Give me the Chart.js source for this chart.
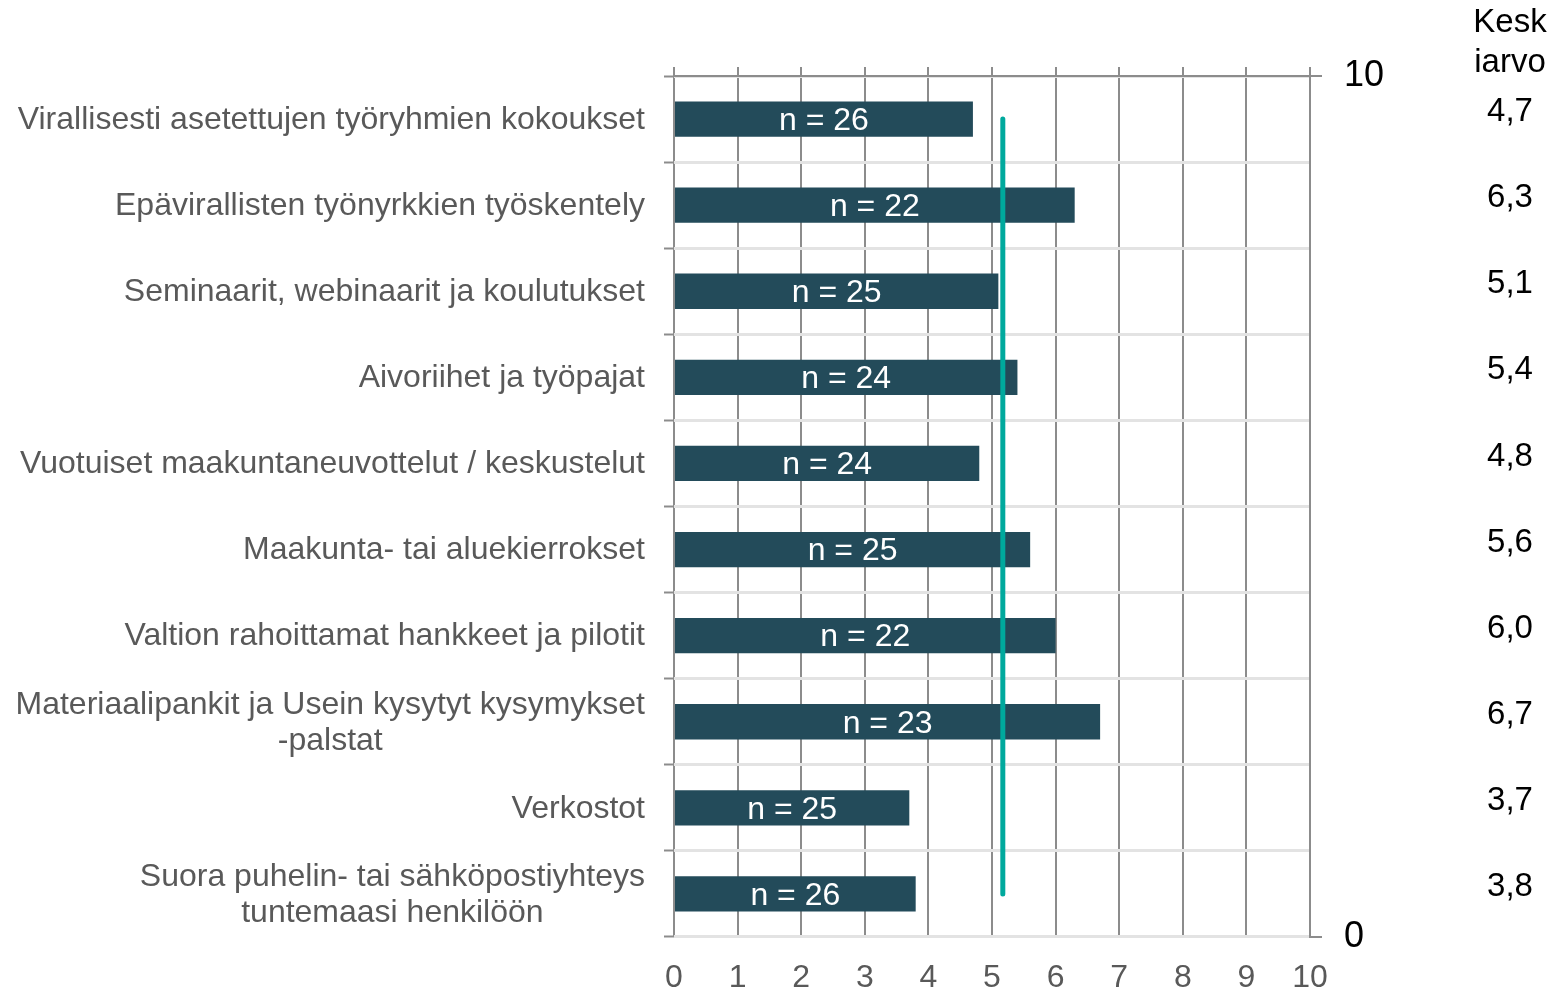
<!DOCTYPE html>
<html>
<head>
<meta charset="utf-8">
<script src="https://cdn.jsdelivr.net/npm/chart.js@4/dist/chart.umd.min.js"></script>
<style>
html, body { margin: 0; padding: 0; background: #fff; }
</style>
</head>
<body>
<canvas id="myChart" width="1552" height="991"></canvas>
<script>
// data
var kategoriat = [
    ["Virallisesti asetettujen työryhmien kokoukset"],
    ["Epävirallisten työnyrkkien työskentely"],
    ["Seminaarit, webinaarit ja koulutukset"],
    ["Aivoriihet ja työpajat"],
    ["Vuotuiset maakuntaneuvottelut / keskustelut"],
    ["Maakunta- tai aluekierrokset"],
    ["Valtion rahoittamat hankkeet ja pilotit"],
    ["Materiaalipankit ja Usein kysytyt kysymykset", "-palstat"],
    ["Verkostot"],
    ["Suora puhelin- tai sähköpostiyhteys", "tuntemaasi henkilöön"]
];
var arvot = [4.7, 6.3, 5.1, 5.4, 4.8, 5.6, 6.0, 6.7, 3.7, 3.8];
var vastaajat = [26, 22, 25, 24, 24, 25, 22, 23, 25, 26];
var keskiarvoTekstit = ["4,7", "6,3", "5,1", "5,4", "4,8", "5,6", "6,0", "6,7", "3,7", "3,8"];
var keskiarvo = 5.17;
var xTikit = [0, 1, 2, 3, 4, 5, 6, 7, 8, 9, 10];
var oikeaTikit = [0, 10];
var otsikko = ["Kesk", "iarvo"];

var fontti = '"Liberation Sans", Arial, sans-serif';

var piirrot = {
    id: 'piirrot',
    afterDatasetsDraw: function(chart) {
        var ctx = chart.ctx;
        var x = chart.scales.x;
        var y = chart.scales.y;
        ctx.save();

        // keskiarvoviiva
        var xp = x.getPixelForValue(keskiarvo);
        ctx.strokeStyle = '#00a99d';
        ctx.lineWidth = 5;
        ctx.lineCap = 'round';
        ctx.beginPath();
        ctx.moveTo(xp, y.getPixelForValue(0));
        ctx.lineTo(xp, y.getPixelForValue(kategoriat.length - 1));
        ctx.stroke();

        // n = .. palkkien sisään
        var meta = chart.getDatasetMeta(0);
        ctx.font = '32px ' + fontti;
        ctx.fillStyle = '#ffffff';
        ctx.textAlign = 'center';
        ctx.textBaseline = 'middle';
        meta.data.forEach(function(bar, i) {
            ctx.fillText('n = ' + vastaajat[i], (bar.base + bar.x) / 2, bar.y + 2);
        });
        ctx.restore();
    },
    afterDraw: function(chart) {
        var ctx = chart.ctx;
        var y = chart.scales.y;
        ctx.save();
        ctx.font = '32px ' + fontti;
        ctx.textBaseline = 'middle';

        // kategorioiden nimet
        ctx.fillStyle = '#595959';
        ctx.textAlign = 'center';
        for (var i = 0; i < kategoriat.length; i++) {
            var rivit = kategoriat[i];
            var leveys = 0;
            for (var j = 0; j < rivit.length; j++) {
                leveys = Math.max(leveys, ctx.measureText(rivit[j]).width);
            }
            var keski = 645 - leveys / 2;
            var yc = y.getPixelForValue(i);
            for (var j = 0; j < rivit.length; j++) {
                ctx.fillText(rivit[j], keski, yc + 1 + (j - (rivit.length - 1) / 2) * 36);
            }
        }

        // keskiarvosarake oikealla
        ctx.font = '33px ' + fontti;
        ctx.fillStyle = '#000000';
        for (var i = 0; i < keskiarvoTekstit.length; i++) {
            ctx.fillText(keskiarvoTekstit[i], 1510, y.getPixelForValue(i) - 7);
        }
        ctx.fillText(otsikko[0], 1510, 23);
        ctx.fillText(otsikko[1], 1510, 63);
        ctx.restore();
    }
};

var ctx = document.getElementById("myChart").getContext('2d');
var myChart = new Chart(ctx, {
    type: 'bar',
    data: {
        labels: kategoriat,
        datasets: [{
            label: 'Keskiarvo',
            data: arvot,
            backgroundColor: '#234b5a',
            borderWidth: 0,
            barPercentage: 0.41,
            categoryPercentage: 1,
            xAxisID: 'x',
            yAxisID: 'y'
        }]
    },
    options: {
        indexAxis: 'y',
        responsive: false,
        animation: false,
        layout: { padding: 0 },
        plugins: {
            legend: { display: false },
            tooltip: { enabled: false }
        },
        scales: {
            x: {
                type: 'linear',
                position: 'bottom',
                min: 0,
                max: 10,
                afterBuildTicks: function(s) { s.ticks = xTikit.map(function(v) { return { value: v }; }); },
                afterFit: function(s) { s.height = 54; },
                grid: { color: '#8c8c8c', lineWidth: 2, drawTicks: false },
                border: { display: false },
                ticks: { color: '#595959', font: { size: 32, family: fontti }, padding: 22 }
            },
            x2: {
                type: 'linear',
                position: 'top',
                min: 0,
                max: 10,
                afterBuildTicks: function(s) { s.ticks = xTikit.map(function(v) { return { value: v }; }); },
                afterFit: function(s) { s.height = 76; },
                grid: { drawOnChartArea: false, color: '#8c8c8c', lineWidth: 2, tickLength: 9 },
                border: { color: '#8c8c8c', width: 2 },
                ticks: { display: false }
            },
            y: {
                position: 'left',
                afterFit: function(s) { s.width = 674; },
                grid: { color: '#e3e3e3', lineWidth: 3, tickColor: '#8c8c8c', tickWidth: 2, tickLength: 10, offset: true },
                border: { display: false },
                ticks: { display: false }
            },
            y2: {
                type: 'linear',
                position: 'right',
                min: 0,
                max: 10,
                offset: false,
                afterBuildTicks: function(s) { s.ticks = oikeaTikit.map(function(v) { return { value: v }; }); },
                afterFit: function(s) { s.width = 242; },
                grid: { drawOnChartArea: false, offset: false, color: '#8c8c8c', lineWidth: 2, tickLength: 12 },
                border: { color: '#8c8c8c', width: 2 },
                ticks: { color: '#000000', font: { size: 36, family: fontti }, padding: 22 }
            }
        }
    },
    plugins: [piirrot]
});
</script>
</body>
</html>
